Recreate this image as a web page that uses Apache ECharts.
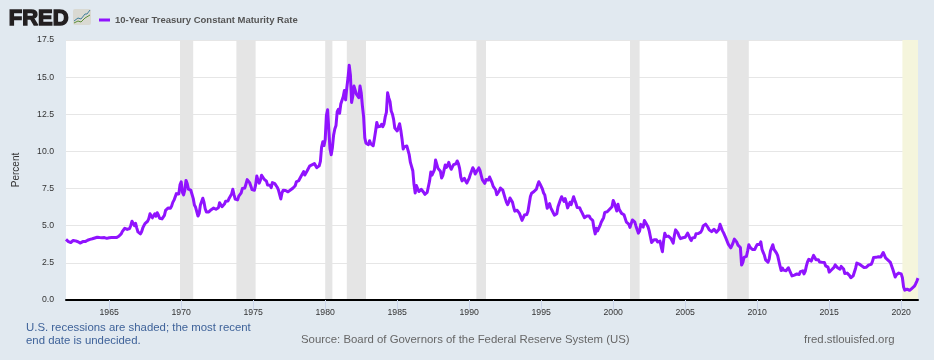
<!DOCTYPE html>
<html>
<head>
<meta charset="utf-8">
<title>10-Year Treasury Constant Maturity Rate</title>
<script src="https://cdn.jsdelivr.net/npm/echarts@6/dist/echarts.min.js"></script>
<style>
  html, body { margin: 0; padding: 0; background: #e1e9f0; }
  #chart { width: 934px; height: 360px; }
</style>
</head>
<body>
<div id="chart"></div>
<script>
// Monthly values, one row per year
const firstYear = 1962;
const rate = [
  4.08, 4.04, 3.93, 3.84, 3.87, 3.91, 4.01, 3.98, 3.98, 3.93, 3.92, 3.86,
  3.83, 3.92, 3.93, 3.97, 3.93, 3.99, 4.02, 4.00, 4.08, 4.11, 4.12, 4.13,
  4.17, 4.15, 4.22, 4.23, 4.20, 4.17, 4.19, 4.19, 4.20, 4.19, 4.15, 4.17,
  4.19, 4.21, 4.21, 4.20, 4.21, 4.21, 4.20, 4.25, 4.29, 4.35, 4.45, 4.62,
  4.61, 4.83, 4.87, 4.75, 4.78, 4.81, 5.02, 5.30, 5.18, 5.01, 5.16, 4.84,
  4.58, 4.63, 4.45, 4.59, 4.85, 5.02, 5.16, 5.28, 5.30, 5.48, 5.80, 5.70,
  5.53, 5.56, 5.80, 5.64, 5.87, 5.72, 5.50, 5.42, 5.46, 5.58, 5.70, 6.03,
  6.04, 6.19, 6.30, 6.17, 6.32, 6.57, 6.72, 6.69, 7.16, 7.10, 7.14, 7.75,
  7.95, 7.24, 7.07, 7.39, 8.05, 7.84, 7.46, 7.53, 7.39, 7.33, 6.84, 6.39,
  6.24, 6.11, 5.65, 5.83, 6.39, 6.52, 6.85, 6.58, 6.14, 5.93, 5.81, 5.93,
  5.95, 6.08, 6.07, 6.19, 6.13, 6.11, 6.11, 6.21, 6.55, 6.48, 6.28, 6.36,
  6.46, 6.64, 6.71, 6.67, 6.85, 6.90, 7.13, 7.45, 7.09, 6.79, 6.73, 6.74,
  6.99, 6.96, 7.21, 7.51, 7.58, 7.54, 7.81, 8.10, 8.04, 7.90, 7.68, 7.43,
  7.50, 7.39, 7.73, 8.35, 8.06, 7.86, 8.06, 8.40, 8.45, 8.14, 8.05, 8.00,
  7.74, 7.79, 7.73, 7.56, 7.90, 7.86, 7.83, 7.77, 7.59, 7.41, 7.29, 6.80,
  7.21, 7.39, 7.46, 7.37, 7.46, 7.28, 7.33, 7.40, 7.34, 7.52, 7.58, 7.69,
  7.96, 8.03, 8.04, 8.15, 8.35, 8.46, 8.64, 8.41, 8.42, 8.70, 8.81, 9.01,
  9.10, 9.10, 9.12, 9.18, 9.25, 8.91, 8.95, 9.03, 9.33, 10.30, 10.65, 10.39,
  10.80, 12.41, 12.80, 11.47, 10.18, 9.78, 10.25, 11.10, 11.51, 11.75, 12.68, 12.84,
  12.57, 13.19, 13.12, 13.68, 14.10, 13.47, 14.28, 14.94, 15.80, 15.15, 13.30, 13.72,
  14.40, 14.30, 13.86, 13.87, 13.62, 14.40, 13.95, 13.06, 12.34, 10.91, 10.55, 10.54,
  10.46, 10.72, 10.51, 10.40, 10.38, 10.85, 11.38, 11.95, 11.65, 11.54, 11.69, 11.83,
  11.67, 11.84, 12.32, 12.63, 13.95, 13.60, 13.36, 12.72, 12.52, 12.16, 11.57, 11.50,
  11.38, 11.51, 11.86, 11.43, 10.85, 10.16, 10.31, 10.33, 10.37, 10.24, 9.78, 9.26,
  9.19, 8.70, 7.78, 7.20, 7.71, 7.80, 7.30, 7.17, 7.45, 7.43, 7.25, 7.11,
  7.08, 7.25, 7.25, 8.02, 8.61, 8.40, 8.45, 8.76, 9.42, 9.55, 8.86, 8.99,
  8.67, 8.21, 8.37, 8.72, 9.09, 8.92, 9.06, 9.26, 8.98, 8.80, 8.96, 9.11,
  9.09, 9.17, 9.36, 9.18, 8.86, 8.28, 8.02, 8.11, 8.19, 8.01, 7.87, 7.84,
  8.21, 8.47, 8.59, 8.90, 8.76, 8.48, 8.47, 8.75, 8.89, 8.72, 8.39, 8.08,
  8.09, 7.85, 8.11, 8.04, 8.07, 8.28, 8.27, 7.90, 7.65, 7.53, 7.42, 7.09,
  7.03, 7.34, 7.54, 7.48, 7.39, 7.26, 6.84, 6.59, 6.42, 6.59, 6.87, 6.77,
  6.60, 6.26, 5.98, 5.97, 6.04, 5.96, 5.81, 5.68, 5.36, 5.33, 5.72, 5.77,
  5.75, 5.97, 6.48, 6.97, 7.18, 7.10, 7.30, 7.24, 7.46, 7.74, 7.96, 7.81,
  7.78, 7.47, 7.20, 7.06, 6.63, 6.17, 6.28, 6.49, 6.20, 6.04, 5.93, 5.71,
  5.65, 5.81, 6.27, 6.51, 6.74, 6.95, 6.87, 6.64, 6.83, 6.53, 6.20, 6.30,
  6.58, 6.42, 6.69, 6.95, 6.71, 6.49, 6.22, 6.30, 6.21, 6.03, 5.88, 5.81,
  5.54, 5.57, 5.65, 5.64, 5.65, 5.50, 5.46, 5.34, 4.81, 4.45, 4.83, 4.65,
  4.72, 5.00, 5.23, 5.18, 5.54, 5.90, 5.79, 5.94, 5.92, 6.11, 6.03, 6.28,
  6.70, 6.52, 6.26, 5.99, 6.44, 6.10, 6.05, 5.83, 5.80, 5.74, 5.72, 5.24,
  5.16, 5.10, 4.89, 5.14, 5.39, 5.28, 5.24, 4.97, 4.73, 4.50, 4.65, 5.09,
  5.04, 4.91, 5.35, 5.21, 5.16, 4.93, 4.65, 4.26, 3.87, 3.94, 4.05, 4.03,
  4.05, 3.90, 3.81, 3.96, 3.57, 3.25, 3.98, 4.50, 4.27, 4.29, 4.30, 4.27,
  4.15, 4.08, 3.83, 4.35, 4.72, 4.73, 4.50, 4.28, 4.13, 4.10, 4.19, 4.23,
  4.22, 4.17, 4.50, 4.34, 4.14, 4.00, 4.18, 4.26, 4.20, 4.46, 4.54, 4.47,
  4.42, 4.57, 4.72, 4.99, 5.11, 5.11, 5.09, 4.88, 4.72, 4.73, 4.60, 4.56,
  4.76, 4.72, 4.56, 4.69, 4.75, 5.10, 5.00, 4.67, 4.52, 4.53, 4.15, 4.10,
  3.74, 3.74, 3.51, 3.68, 3.88, 4.10, 4.01, 3.89, 3.69, 3.81, 3.53, 2.35,
  2.52, 2.87, 2.82, 2.93, 3.29, 3.72, 3.56, 3.59, 3.40, 3.39, 3.40, 3.59,
  3.73, 3.69, 3.73, 3.92, 3.42, 3.20, 3.01, 2.70, 2.65, 2.54, 2.76, 3.29,
  3.39, 3.72, 3.41, 3.46, 3.17, 3.00, 3.00, 2.30, 1.98, 2.15, 2.01, 1.98,
  1.97, 1.97, 2.17, 2.05, 1.80, 1.62, 1.53, 1.68, 1.72, 1.75, 1.65, 1.72,
  1.91, 1.98, 1.96, 1.76, 1.93, 2.30, 2.58, 2.74, 2.81, 2.62, 2.72, 3.00,
  2.86, 2.71, 2.72, 2.71, 2.56, 2.60, 2.54, 2.42, 2.53, 2.30, 2.33, 2.21,
  1.88, 1.98, 2.04, 1.94, 2.20, 2.36, 2.32, 2.17, 2.17, 2.07, 2.26, 2.24,
  2.09, 1.78, 1.89, 1.81, 1.81, 1.64, 1.50, 1.56, 1.63, 1.76, 2.14, 2.49,
  2.43, 2.42, 2.48, 2.30, 2.30, 2.19, 2.32, 2.21, 2.20, 2.36, 2.35, 2.40,
  2.58, 2.86, 2.84, 2.87, 2.98, 2.91, 2.89, 2.89, 3.00, 3.20, 3.12, 2.83,
  2.71, 2.68, 2.57, 2.53, 2.40, 2.07, 2.06, 1.55, 1.70, 1.71, 1.81, 1.86,
  1.76, 1.50, 0.87, 0.66, 0.67, 0.73, 0.62, 0.65, 0.68, 0.79, 0.87, 0.93,
  1.08, 1.26, 1.47
];
// start and end as year, month
const recessions = [
  [1969, 12, 1970, 11],
  [1973, 11, 1975, 3],
  [1980, 1, 1980, 7],
  [1981, 7, 1982, 11],
  [1990, 7, 1991, 3],
  [2001, 3, 2001, 11],
  [2007, 12, 2009, 6]
];
const undecided = [2020, 2, 2021, 3];
const yearTicks = [1965, 1970, 1975, 1980, 1985, 1990, 1995, 2000, 2005, 2010, 2015, 2020];
const seriesName = "10-Year Treasury Constant Maturity Rate";

function toYear(y, m) {
  return y + (m - 1) / 12;
}

const points = rate.map((v, i) => [firstYear + i / 12, v]);
const shaded = recessions.map(r => [{ xAxis: toYear(r[0], r[1]) }, { xAxis: toYear(r[2], r[3]) }]);
shaded.push([
  { xAxis: toYear(undecided[0], undecided[1]), itemStyle: { color: "#f5f5dc" } },
  { xAxis: toYear(undecided[2], undecided[3]) }
]);

const fontName = "'Liberation Sans', Arial, sans-serif";
const chart = echarts.init(document.getElementById("chart"));

chart.setOption({
  animation: false,
  backgroundColor: "#e1e9f0",
  textStyle: { fontFamily: fontName },
  grid: {
    left: 66, right: 16, top: 40, bottom: 60,
    show: true, backgroundColor: "#ffffff", borderWidth: 0
  },
  legend: {
    left: 94, top: 10,
    itemWidth: 11, itemHeight: 3, itemGap: 4,
    icon: "rect",
    data: [seriesName],
    textStyle: { fontFamily: fontName, fontSize: 9.5, fontWeight: "bold", color: "#555555" }
  },
  xAxis: {
    type: "value",
    z: 5,
    min: toYear(firstYear, 1),
    max: toYear(2021, 3),
    axisLine: { show: true, onZero: false, lineStyle: { color: "#000000", width: 2 } },
    axisTick: { show: true, length: 10, customValues: yearTicks, lineStyle: { color: "#ccd6eb" } },
    axisLabel: {
      customValues: yearTicks,
      formatter: v => String(Math.round(v)),
      color: "#333333", fontSize: 8.7, margin: 8, hideOverlap: false
    },
    splitLine: { show: false }
  },
  yAxis: {
    type: "value",
    min: 0, max: 17.5, interval: 2.5,
    name: "Percent",
    nameLocation: "middle",
    nameGap: 45,
    nameTextStyle: { color: "#333333", fontSize: 10 },
    axisLine: { show: false },
    axisTick: { show: false },
    axisLabel: { formatter: v => v.toFixed(1), color: "#333333", fontSize: 8.7, margin: 12, padding: [2, 0, 0, 0] },
    splitLine: { lineStyle: { color: "#e6e6e6", width: 1 } }
  },
  series: [
    {
      name: seriesName,
      type: "line",
      data: points,
      showSymbol: false,
      sampling: false,
      color: "#9013fe",
      lineStyle: { color: "#9013fe", width: 3, join: "round" },
      markArea: {
        silent: true,
        itemStyle: { color: "#e5e5e5" },
        label: { show: false },
        data: shaded
      },
      z: 3
    }
  ],
  graphic: [
    {
      type: "text", left: 8, top: 7,
      style: { text: "FRED", font: "900 22px " + fontName, fill: "#231f20", stroke: "#231f20", lineWidth: 1.4 }
    },
    {
      type: "rect", left: 73, top: 9,
      shape: { width: 18, height: 16, r: 2 },
      style: { fill: "#d9d9d2" }
    },
    {
      type: "polyline",
      shape: { points: [[74, 21], [78, 18], [81, 19], [85, 14], [87, 14], [90, 10]] },
      style: { stroke: "#3f7f9c", fill: null, lineWidth: 1 }
    },
    {
      type: "polyline",
      shape: { points: [[74, 23], [78, 21], [81, 22], [85, 18], [90, 15]] },
      style: { stroke: "#5d8f3a", fill: null, lineWidth: 1 }
    },
    {
      type: "text", left: 26, top: 321,
      style: { text: "U.S. recessions are shaded; the most recent\nend date is undecided.", font: "11.4px " + fontName, fill: "#3e6299", lineHeight: 13 }
    },
    {
      type: "text", left: 301, top: 334,
      style: { text: "Source: Board of Governors of the Federal Reserve System (US)", font: "11.4px " + fontName, fill: "#666666" }
    },
    {
      type: "text", left: 804, top: 334,
      style: { text: "fred.stlouisfed.org", font: "11.4px " + fontName, fill: "#666666" }
    }
  ]
});
</script>
</body>
</html>
